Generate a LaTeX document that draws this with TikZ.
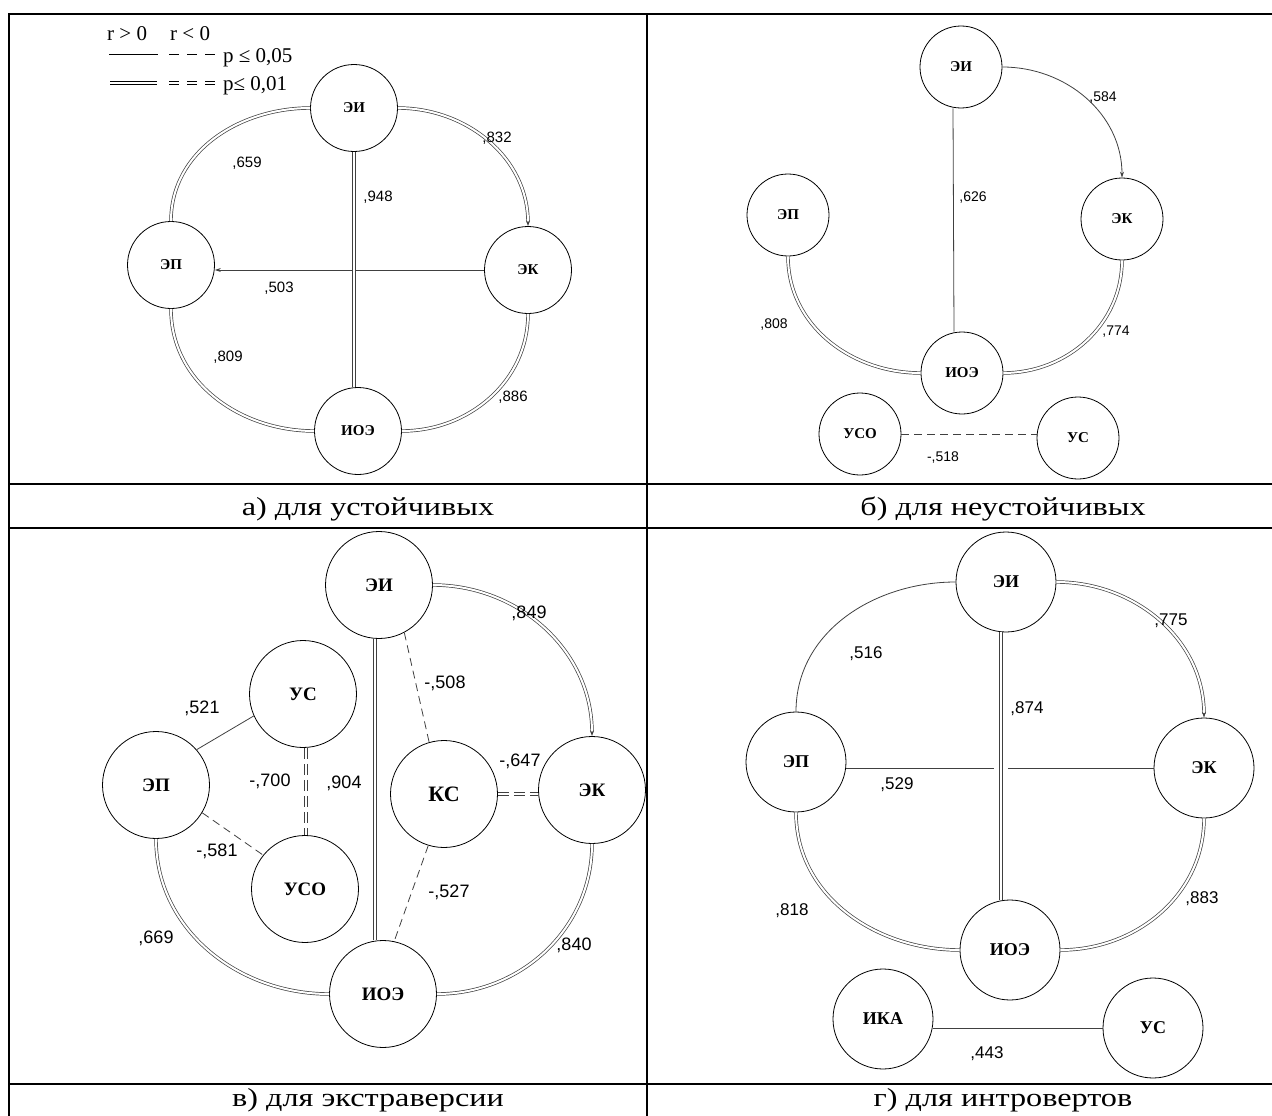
\documentclass[tikz,border=0pt]{standalone}
\usepackage{fontspec}
\setmainfont{Liberation Serif}
\newfontfamily\numfont{Liberation Sans}
\newfontfamily\capfont[FakeStretch=1.24]{Liberation Serif}
\usetikzlibrary{arrows.meta}
\begin{document}
\begin{tikzpicture}[x=1pt, y=-1pt,
  vert/.style={draw, circle, line width=0.8pt, inner sep=0pt},
  conn/.style={draw=black!75, line width=0.8pt},
  dbl/.style={conn, double=white, double distance=2pt, line width=0.7pt},
  neg/.style={conn, dash pattern=on 8pt off 5pt},
  dblneg/.style={dbl, dash pattern=on 11pt off 5pt},
  tip/.style={-{Stealth[length=6pt,width=4pt]}},
  lbl/.style={inner sep=0pt},
  captxt/.style={anchor=base, font=\capfont\fontsize{26}{30}\selectfont},
  frame/.style={line width=2pt}]
\useasboundingbox (0,0) rectangle (1272,1116);

% table
\draw[frame] (1272,14) -- (9,14) -- (9,1116);
\draw[frame] (647,14) -- (647,1116);
\draw[frame] (9,484) -- (1272,484);
\draw[frame] (9,528) -- (1272,528);
\draw[frame] (9,1084) -- (1272,1084);

\node[captxt] (capA) at (368,515) {а) для устойчивых};
\node[captxt] (capB) at (1003,515) {б) для неустойчивых};
\node[captxt] (capV) at (368,1106) {в) для экстраверсии};
\node[captxt] (capG) at (1003,1106) {г) для интровертов};

% legend
\begin{scope}[nodes={anchor=base west, inner sep=0pt, font=\fontsize{21}{22}\selectfont}]
\node (rpos) at (107,41) {r > 0};
\node (rneg) at (170,41) {r < 0};
\node (p05) at (223,63) {p ≤ 0,05};
\node (p01) at (223,90) {p≤ 0,01};
\coordinate (s1) at (109,54);
\coordinate (s2) at (158,54);
\coordinate (s3) at (169,54);
\coordinate (s4) at (215,54);
\coordinate (s5) at (110,83);
\coordinate (s6) at (157,83);
\coordinate (s7) at (169,83);
\coordinate (s8) at (215,83);
\draw[line width=0.8pt] (s1) -- (s2);
\draw[line width=0.8pt, dash pattern=on 10pt off 8pt] (s3) -- (s4);
\draw[line width=0.7pt, double, double distance=2pt] (s5) -- (s6);
\draw[line width=0.7pt, double, double distance=2pt, dash pattern=on 10pt off 8pt] (s7) -- (s8);
\end{scope}

% a) для устойчивых
\begin{scope}[vert/.append style={minimum size=87pt, font=\bfseries\fontsize{15}{18}\selectfont},
  lbl/.append style={font=\numfont\fontsize{15}{18}\selectfont}]
\node[vert] (aEI) at (354,108) {ЭИ};
\node[vert] (aEP) at (171,265) {ЭП};
\node[vert] (aEK) at (528,270) {ЭК};
\node[vert] (aIOE) at (358,431) {ИОЭ};
\draw[dbl] (aEI.west) to[out=180,in=90] (aEP.north);
\draw[dbl,tip] (aEI.east) to[out=0,in=90] (aEK.north);
\draw[dbl] (aEP.south) to[out=-90,in=180] (aIOE.west);
\draw[dbl] (aEK.south) to[out=-90,in=0] (aIOE.east);
\draw[conn,tip] (aEK.west) -- (aEK.west -| aEP.east);
\draw[dbl] (aEI.south) -- (aEI.south |- aIOE.north);
\node[lbl] (a659) at (247,163) {,659};
\node[lbl] (a832) at (497,138) {,832};
\node[lbl] (a948) at (378,197) {,948};
\node[lbl] (a503) at (279,288) {,503};
\node[lbl] (a809) at (228,357) {,809};
\node[lbl] (a886) at (513,397) {,886};
\end{scope}

% б) для неустойчивых
\begin{scope}[vert/.append style={minimum size=82pt, font=\bfseries\fontsize{15}{18}\selectfont},
  lbl/.append style={font=\numfont\fontsize{14}{16}\selectfont}]
\node[vert] (bEI) at (961,67) {ЭИ};
\node[vert] (bEP) at (788,215) {ЭП};
\node[vert] (bEK) at (1122,219) {ЭК};
\node[vert] (bIOE) at (962,373) {ИОЭ};
\node[vert] (bUSO) at (860,434) {УСО};
\node[vert] (bUS) at (1078,438) {УС};
\draw[conn,tip] (bEI.east) to[out=0,in=90] (bEK.north);
\draw[dbl] (bEP.south) to[out=-90,in=180] (bIOE.west);
\draw[dbl] (bEK.south) to[out=-90,in=0] (bIOE.east);
\draw[conn] ([xshift=-8pt]bEI.south) -- ([xshift=-8pt]bIOE.north);
\draw[neg] (bUSO.east) -- (bUSO.east -| bUS.west);
\node[lbl] (b584) at (1103,98) {,584};
\node[lbl] (b626) at (973,198) {,626};
\node[lbl] (b808) at (774,325) {,808};
\node[lbl] (b774) at (1116,332) {,774};
\node[lbl] (b518) at (943,458) {-,518};
\end{scope}

% в) для экстраверсии
\begin{scope}[vert/.append style={minimum size=107pt, font=\bfseries\fontsize{19}{22}\selectfont},
  lbl/.append style={font=\numfont\fontsize{18}{20}\selectfont}]
\node[vert] (vEI) at (379,585) {ЭИ};
\node[vert] (vUS) at (303,694) {УС};
\node[vert] (vEP) at (156,785) {ЭП};
\node[vert, font=\bfseries\fontsize{22}{24}\selectfont] (vKS) at (444,794) {КС};
\node[vert] (vEK) at (592,790) {ЭК};
\node[vert] (vUSO) at (305,889) {УСО};
\node[vert] (vIOE) at (383,994) {ИОЭ};
\draw[dbl,tip] (vEI.east) to[out=0,in=90] (vEK.north);
\draw[dbl] (vEP.south) to[out=-90,in=180] (vIOE.west);
\draw[dbl] (vEK.south) to[out=-90,in=0] (vIOE.east);
\draw[dbl] ([xshift=-4pt]vEI.south) -- ([xshift=-8pt]vIOE.north);
\draw[neg] (vEI.-62) -- (vKS.106);
\draw[conn] (vUS.204) -- (vEP.41);
\draw[neg] (vEP.-31) -- (vUSO.141);
\draw[neg] (vKS.-107) -- (vIOE.78);
\draw[dblneg] ([xshift=3pt]vUS.south) -- ([xshift=1pt]vUSO.north);
\draw[dblneg] (vKS.east) -- (vKS.east -| vEK.west);
\node[lbl] (v849) at (529,613) {,849};
\node[lbl] (v521) at (202,708) {,521};
\node[lbl] (v508) at (445,683) {-,508};
\node[lbl] (v700) at (270,781) {-,700};
\node[lbl] (v904) at (344,783) {,904};
\node[lbl] (v647) at (520,761) {-,647};
\node[lbl] (v581) at (217,851) {-,581};
\node[lbl] (v527) at (449,892) {-,527};
\node[lbl] (v669) at (156,938) {,669};
\node[lbl] (v840) at (574,945) {,840};
\end{scope}

% г) для интровертов
\begin{scope}[vert/.append style={minimum size=100pt, font=\bfseries\fontsize{18}{21}\selectfont},
  lbl/.append style={font=\numfont\fontsize{17}{19}\selectfont}]
\node[vert] (gEI) at (1006,582) {ЭИ};
\node[vert] (gEP) at (796,762) {ЭП};
\node[vert] (gEK) at (1204,768) {ЭК};
\node[vert] (gIOE) at (1010,950) {ИОЭ};
\node[vert] (gIKA) at (883,1019) {ИКА};
\node[vert] (gUS) at (1153,1028) {УС};
\draw[conn] (gEI.west) to[out=180,in=90] (gEP.north);
\draw[dbl,tip] (gEI.east) to[out=0,in=90] (gEK.north);
\draw[dbl] (gEP.south) to[out=-90,in=180] (gIOE.west);
\draw[dbl] (gEK.south) to[out=-90,in=0] (gIOE.east);
\draw[conn] (gEK.west) -- (gEK.west -| gEP.east);
\draw[dbl, preaction={draw=white, line width=14pt, shorten <=12pt, shorten >=12pt}] ([xshift=-5pt]gEI.south) -- ([xshift=-9pt]gIOE.north);
\draw[conn] (gUS.west) -- (gUS.west -| gIKA.east);
\node[lbl] (g516) at (866,654) {,516};
\node[lbl] (g775) at (1171,621) {,775};
\node[lbl] (g874) at (1027,709) {,874};
\node[lbl] (g529) at (897,785) {,529};
\node[lbl] (g818) at (792,911) {,818};
\node[lbl] (g883) at (1202,899) {,883};
\node[lbl] (g443) at (987,1054) {,443};
\end{scope}
\end{tikzpicture}
\end{document}
